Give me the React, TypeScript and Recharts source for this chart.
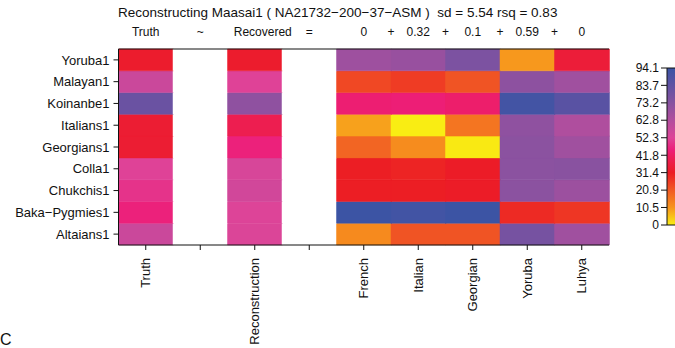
import { BarChart, Bar, Cell, XAxis, YAxis } from "recharts";

const ROWS = [
  "Yoruba1",
  "Malayan1",
  "Koinanbe1",
  "Italians1",
  "Georgians1",
  "Colla1",
  "Chukchis1",
  "Baka−Pygmies1",
  "Altaians1",
];

const COL_KEYS = ["Truth", "gap1", "Reconstruction", "gap2", "French", "Italian", "Georgian", "Yoruba", "Luhya"];
const BOTTOM_LABELS = ["Truth", "", "Reconstruction", "", "French", "Italian", "Georgian", "Yoruba", "Luhya"];
const HEADER_LABELS = ["Truth", "~", "Recovered", "=", "0", "0.32", "0.1", "0.59", "0"];

// values per column, rows top -> bottom
const truth = [33, 57, 81, 34, 34, 52, 49, 45.5, 57];
const recovered = [33, 52, 71, 39, 45.5, 54, 55.5, 52.5, 53];
const french = [67.5, 24, 44, 9, 19, 31, 31, 93.5, 12.3];
const italian = [69, 26, 44.5, 0, 12, 30, 31, 92, 22];
const georgian = [76, 22, 43, 16, 0.5, 32, 32, 93.5, 22];
const yoruba = [10, 71.5, 91.5, 71, 72, 72, 72, 29, 77.5];
const luhya = [35, 67, 85.5, 63.5, 67, 72.5, 68, 27, 67];

const COL_VALUES: (number[] | null)[] = [truth, null, recovered, null, french, italian, georgian, yoruba, luhya];

const CB_MAX = 94.1;
const CB_TICKS = [0, 10.5, 20.9, 31.4, 41.8, 52.3, 62.8, 73.2, 83.7, 94.1];

const STOPS: [number, number[]][] = [
  [0, [249, 237, 19]],
  [10.5, [247, 148, 29]],
  [20.9, [241, 90, 36]],
  [31.4, [236, 28, 36]],
  [39, [237, 30, 80]],
  [45, [237, 30, 121]],
  [52.3, [222, 68, 152]],
  [62.8, [178, 78, 158]],
  [73.2, [134, 82, 160]],
  [83.7, [96, 82, 163]],
  [94.1, [58, 84, 164]],
];

const rgb = (c: number[]) => `rgb(${c.map((x) => Math.round(x)).join(",")})`;

function heat(v: number) {
  for (let i = 1; i < STOPS.length; i++) {
    const [v1, c1] = STOPS[i];
    const [v0, c0] = STOPS[i - 1];
    if (v <= v1) {
      const t = (v - v0) / (v1 - v0);
      return rgb(c0.map((x, k) => x + (c1[k] - x) * t));
    }
  }
  return rgb(STOPS[STOPS.length - 1][1]);
}

const PLOT_L = 118.5;
const PLOT_R = 609;
const CW = (PLOT_R - PLOT_L) / 9;

const data = COL_KEYS.map((key) => {
  const o: Record<string, any> = { key };
  ROWS.forEach((_, j) => (o[`r${j}`] = 1));
  return o;
});

const FONT = '"Liberation Sans", Arial, Helvetica, sans-serif';

function BottomTick(props: any) {
  const { x, y, payload } = props;
  const label = BOTTOM_LABELS[COL_KEYS.indexOf(payload.value)];
  return (
    <text
      x={x}
      y={y}
      transform={`rotate(-90 ${x} ${y})`}
      textAnchor="end"
      dy="0.35em"
      fontSize={13}
      fill="#111"
      fontFamily={FONT}
    >
      {label}
    </text>
  );
}

function HeaderTick(props: any) {
  const { x, payload } = props;
  const i = COL_KEYS.indexOf(payload.value);
  const dx = i === 2 ? 8 : 0;
  return (
    <g>
      <text x={x + dx} y={36} textAnchor="middle" fontSize={12} fill="#111" fontFamily={FONT}>
        {HEADER_LABELS[i]}
      </text>
      {i >= 5 && (
        <text x={x - CW / 2} y={36} textAnchor="middle" fontSize={12} fill="#111" fontFamily={FONT}>
          +
        </text>
      )}
    </g>
  );
}

export default function App() {
  const rowTicks = ROWS.map((_, i) => i + 0.5);
  return (
    <div
      style={{
        position: "absolute",
        left: 0,
        top: 0,
        width: 675,
        height: 348,
        overflow: "hidden",
        background: "#fff",
        fontFamily: FONT,
      }}
    >
      <div
        style={{
          position: "absolute",
          left: 118,
          top: 5,
          fontSize: 13.5,
          whiteSpace: "pre",
          color: "#111",
        }}
      >
        Reconstructing Maasai1 ( NA21732−200−37−ASM )  sd = 5.54 rsq = 0.83
      </div>
      <div style={{ position: "absolute", left: 0, top: 332, fontSize: 16, lineHeight: "16px", color: "#111" }}>
        C
      </div>
      <div style={{ position: "absolute", left: 0, top: 0 }}>
        <BarChart
          width={675}
          height={348}
          data={data}
          margin={{ top: 29, right: 66, bottom: 0, left: 0 }}
          barCategoryGap={0}
          barGap={0}
        >
          <XAxis
            xAxisId="top"
            orientation="top"
            dataKey="key"
            height={20}
            interval={0}
            axisLine={{ stroke: "#111" }}
            tickLine={false}
            tick={<HeaderTick />}
          />
          <XAxis
            dataKey="key"
            height={103}
            interval={0}
            axisLine={{ stroke: "#111" }}
            tickLine={{ stroke: "#111" }}
            tickSize={5}
            tickMargin={8}
            tick={<BottomTick />}
          />
          <YAxis
            type="number"
            domain={[0, 9]}
            ticks={rowTicks}
            interval={0}
            width={PLOT_L}
            tickSize={5}
            tickMargin={4}
            axisLine={{ stroke: "#111" }}
            tickLine={{ stroke: "#111" }}
            tick={{ fontSize: 13, fill: "#111" }}
            tickFormatter={(v: number) => ROWS[8 - Math.floor(v)]}
          />
          <YAxis
            yAxisId="right"
            orientation="right"
            type="number"
            domain={[0, 9]}
            width={0}
            tick={false}
            tickLine={false}
            axisLine={{ stroke: "#111" }}
          />
          {ROWS.map((_, k) => {
            const j = 8 - k;
            return (
              <Bar key={j} dataKey={`r${j}`} stackId="s" isAnimationActive={false}>
                {COL_VALUES.map((vals, i) => {
                  const fill = vals ? heat(vals[j]) : "#ffffff";
                  return <Cell key={i} fill={fill} stroke={fill} strokeWidth={0.5} />;
                })}
              </Bar>
            );
          })}
        </BarChart>
      </div>
      <div style={{ position: "absolute", left: 600, top: 0 }}>
        <BarChart
          width={90}
          height={348}
          data={[{ n: "c", v: CB_MAX }]}
          margin={{ top: 68, right: 0, bottom: 123, left: 0 }}
          barCategoryGap={0}
        >
          <defs>
            <linearGradient id="cbar" x1="0" y1="1" x2="0" y2="0">
              {STOPS.map(([v, c]) => (
                <stop key={v} offset={v / CB_MAX} stopColor={rgb(c)} />
              ))}
            </linearGradient>
          </defs>
          <XAxis dataKey="n" hide />
          <YAxis
            type="number"
            domain={[0, CB_MAX]}
            ticks={CB_TICKS}
            interval={0}
            width={67}
            tickSize={6}
            tickMargin={2}
            axisLine={false}
            tickLine={{ stroke: "#111" }}
            tick={{ fontSize: 12, fill: "#111" }}
            tickFormatter={(v: number) => (v === 0 ? "0" : v.toFixed(1))}
          />
          <Bar dataKey="v" fill="url(#cbar)" stroke="#111" isAnimationActive={false} />
        </BarChart>
      </div>
    </div>
  );
}
